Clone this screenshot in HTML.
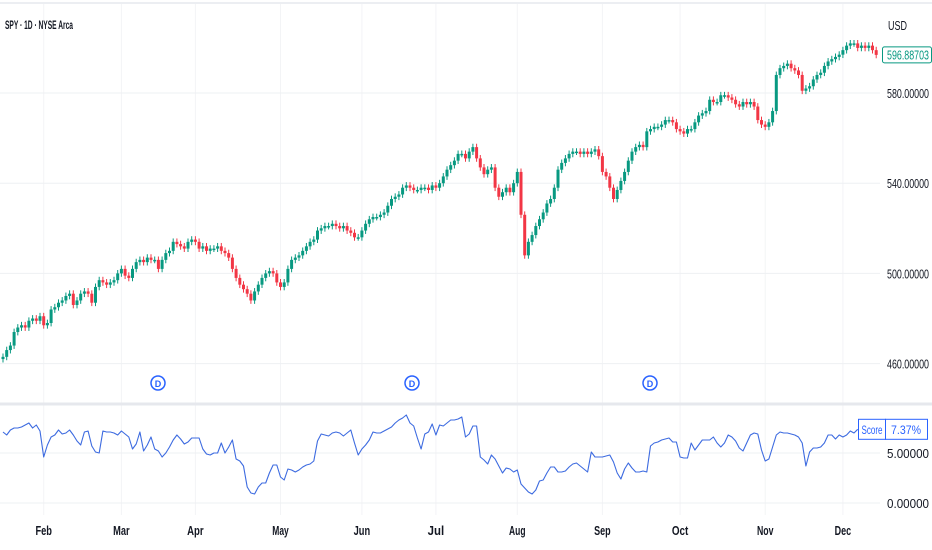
<!DOCTYPE html>
<html><head><meta charset="utf-8"><style>
html,body{margin:0;padding:0;background:#fff;width:932px;height:550px;overflow:hidden;font-family:"Liberation Sans",sans-serif}
svg text{font-family:"Liberation Sans",sans-serif}
</style></head><body>
<svg id="chart" width="932" height="550" xmlns="http://www.w3.org/2000/svg">
<rect x="0" y="0" width="932" height="550" fill="#fff"/>
<line x1="0" y1="3" x2="932" y2="3" stroke="#eceef2" stroke-width="2"/>
<g id="grid"></g>
<line x1="0" y1="404" x2="932" y2="404" stroke="#e6e8ed" stroke-width="3"/>
<g id="candles"></g>
<g id="score"></g>
<g id="axes"></g>
<text x="5" y="29" font-size="12" font-weight="bold" fill="#131722" textLength="68" lengthAdjust="spacingAndGlyphs">SPY · 1D · NYSE Arca</text>
<text x="888" y="30" font-size="13" fill="#131722" textLength="19" lengthAdjust="spacingAndGlyphs">USD</text>
<g>
<circle cx="158" cy="383" r="7" fill="#fff" stroke="#2962ff" stroke-width="1.5"/>
<text x="158" y="387" font-size="9" font-weight="bold" text-anchor="middle" fill="#2962ff">D</text>
<circle cx="412" cy="383" r="7" fill="#fff" stroke="#2962ff" stroke-width="1.5"/>
<text x="412" y="387" font-size="9" font-weight="bold" text-anchor="middle" fill="#2962ff">D</text>
<circle cx="650" cy="383" r="7" fill="#fff" stroke="#2962ff" stroke-width="1.5"/>
<text x="650" y="387" font-size="9" font-weight="bold" text-anchor="middle" fill="#2962ff">D</text>
</g>
</svg>
<script>
const closes = [463,466,468,474,476,477,476,479,480,479,481,477,478,484,485,487,488,490,491,486,488,491,492,491,487,494,497,496,495,496,497,500,502,499,498,502,505,506,505,507,506,506,502,506,509,510,514,513,512,511,514,515,514,511,512,510,511,511,512,510,509,507,502,498,495,493,491,488,492,495,498,500,501,500,496,494,496,502,506,507,508,510,512,514,515,519,520,521,521,522,521,520,521,519,518,516,516,519,522,524,525,525,526,527,530,533,534,535,538,539,538,537,537,538,538,537,539,538,540,543,546,548,550,553,553,551,554,556,551,547,544,546,547,538,534,536,538,536,540,545,526,508,514,517,521,524,527,531,533,538,546,549,551,553,554,554,553,554,553,554,555,552,545,543,538,533,537,541,545,550,554,556,557,556,563,564,565,565,566,568,568,567,564,563,562,564,564,567,570,571,572,577,576,576,579,579,578,577,575,574,576,575,576,574,568,566,565,567,572,588,591,592,593,591,590,588,581,582,583,586,588,589,592,594,595,596,597,599,601,602,602,600,601,600,601,599,596.9];
const scores = [7.1,6.8,7.3,7.5,7.5,7.6,7.8,8.0,7.5,7.8,7.2,4.6,5.8,6.6,6.8,7.3,6.9,7.0,7.3,6.8,6.2,5.8,7.1,7.2,5.7,5.1,5.0,7.2,7.1,7.1,7.0,6.8,7.2,6.9,6.6,5.4,5.9,7.1,5.2,5.8,6.6,5.4,5.2,4.6,5.0,5.6,6.3,6.8,6.4,5.9,6.1,6.5,6.5,6.5,5.4,4.9,4.8,5.0,5.0,6.0,5.0,5.6,6.3,4.4,4.2,3.7,1.6,1.0,0.9,1.6,2.0,2.0,3.0,3.8,3.8,2.6,2.3,3.4,3.3,3.1,3.3,3.6,3.8,3.9,4.2,6.2,6.9,6.8,6.7,7.0,7.1,7.0,6.7,7.0,7.3,6.0,4.8,5.4,5.8,6.3,7.1,7.0,7.0,7.2,7.4,7.6,8.0,8.3,8.5,8.8,8.0,7.7,6.5,5.4,6.9,7.1,7.9,6.8,7.8,7.7,8.0,8.3,8.3,8.4,8.6,6.6,6.9,7.7,7.7,4.6,4.3,3.9,4.8,4.4,3.7,3.0,3.5,3.4,3.1,3.3,1.9,1.5,1.1,0.9,1.3,2.2,2.3,3.0,3.6,3.6,3.1,3.1,3.2,3.6,3.9,4.0,3.7,3.4,3.1,5.1,4.6,4.6,4.6,4.7,4.8,4.1,3.0,2.4,3.4,4.0,3.5,3.1,3.1,3.2,3.1,5.7,6.0,6.1,6.3,6.4,6.5,6.1,6.1,4.6,4.5,4.5,6.0,5.3,5.8,6.3,6.3,6.3,6.6,6.0,5.6,6.0,6.8,6.6,6.2,5.5,5.2,6.0,6.8,7.0,6.9,5.3,4.2,4.4,5.6,6.8,7.1,7.0,7.0,6.9,6.8,6.6,6.0,3.7,5.1,5.5,5.5,5.6,6.0,6.8,6.8,6.4,6.8,6.6,6.8,7.2,7.0,7.37];
const priceTicks = [580,540,500,460];
const scoreTicks = [5,0];
const monthLabels = ["Feb","Mar","Apr","May","Jun","Jul","Aug","Sep","Oct","Nov","Dec"];
const monthIndex = [11,32,52,75,97,117,139,162,183,206,227];
const lastPriceText = "596.88703";
const lastScoreText = "7.37%";

const NS = "http://www.w3.org/2000/svg";
function xScale(i){ return 3 + i*3.7; }
function yPrice(p){ return 93 + (580 - p)*2.255; }
function yScore(v){ return 503 - v*10; }
function mk(tag, attrs, parent){ const e=document.createElementNS(NS,tag); for(const k in attrs) e.setAttribute(k,attrs[k]); parent.appendChild(e); return e; }

const grid=document.getElementById('grid');
monthIndex.forEach((mi,k)=>{
  const l=mk('line',{x1:xScale(mi),x2:xScale(mi),y1:4,y2:515,stroke:'#f3f4f6','stroke-width':1},grid);
  
  
});
priceTicks.forEach(t=>{
  const l=mk('line',{x1:0,x2:880,y1:yPrice(t),y2:yPrice(t),stroke:'#eef0f3','stroke-width':1},grid);
  
  
});
scoreTicks.forEach(t=>{
  const l=mk('line',{x1:0,x2:880,y1:yScore(t),y2:yScore(t),stroke:'#eef0f3','stroke-width':1},grid);
  
  
});

const cg=document.getElementById('candles');
for(let i=0;i<closes.length;i++){
  const c=closes[i], o = i>0 ? closes[i-1] : c-1;
  const up = c>=o, col = up ? '#089981' : '#f23645';
  const x=xScale(i);
  const hi=Math.max(o,c)+1.5, lo=Math.min(o,c)-1.5;
  const w=mk('line',{x1:x,x2:x,y1:yPrice(hi),y2:yPrice(lo),stroke:col,'stroke-width':1},cg);
  
  
  const top=yPrice(Math.max(o,c)), h=Math.max(1.5,yPrice(Math.min(o,c))-top);
  const b=mk('rect',{x:x-1.5,y:top,width:3,height:h,fill:col},cg);
  
  
}

const sg=document.getElementById('score');
const pts=scores.map((v,i)=>xScale(i).toFixed(1)+','+yScore(v).toFixed(1)).join(' ');
const sl=mk('polyline',{points:pts,fill:'none',stroke:'#3d6be0','stroke-width':1.1,'stroke-linejoin':'round'},sg);



const ax=document.getElementById('axes');
priceTicks.forEach(t=>{
  const tx=mk('text',{x:887,y:yPrice(t)+5,'font-size':13,fill:'#131722',textLength:42,lengthAdjust:'spacingAndGlyphs'},ax);
  tx.textContent=t.toFixed(5);
  
  
});
scoreTicks.forEach(t=>{
  const tx=mk('text',{x:887,y:yScore(t)+5,'font-size':13,fill:'#131722',textLength:42,lengthAdjust:'spacingAndGlyphs'},ax);
  tx.textContent=t.toFixed(5);
  
  
});
monthLabels.forEach((m,k)=>{
  const tx=mk('text',{x:xScale(monthIndex[k]),y:535,'font-size':13,'font-weight':'bold','text-anchor':'middle',fill:'#131722',textLength:m.length*5.5,lengthAdjust:'spacingAndGlyphs'},ax);
  tx.textContent=m;
  
  
});
const ly=yPrice(closes[closes.length-1]);
const pb=mk('rect',{x:882.5,y:ly-8,width:49,height:16,fill:'#fff',stroke:'#089981','stroke-width':1,rx:2},ax);


const pt=mk('text',{x:887,y:ly+4.5,'font-size':13,fill:'#089981',textLength:42,lengthAdjust:'spacingAndGlyphs'},ax);
pt.textContent=lastPriceText;


const sy=yScore(scores[scores.length-1]);
const nb=mk('rect',{x:858.5,y:sy-10,width:27,height:20,fill:'#fff',stroke:'#2962ff','stroke-width':1},ax);


const nt=mk('text',{x:872,y:sy+4.5,'font-size':12,'text-anchor':'middle',fill:'#2962ff',textLength:21,lengthAdjust:'spacingAndGlyphs'},ax);
nt.textContent='Score';


const vb=mk('rect',{x:885.5,y:sy-10,width:42,height:20,fill:'#fff',stroke:'#2962ff','stroke-width':1},ax);


const vt=mk('text',{x:906,y:sy+4.5,'font-size':12,'text-anchor':'middle',fill:'#2962ff',textLength:30,lengthAdjust:'spacingAndGlyphs'},ax);
vt.textContent=lastScoreText;


</script>
</body></html>
